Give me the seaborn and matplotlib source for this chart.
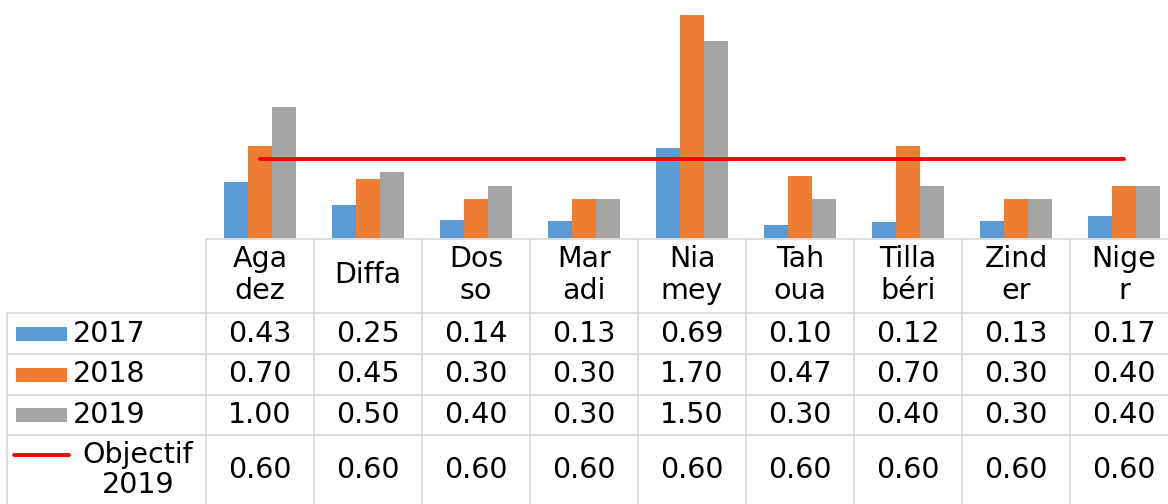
import numpy as np
import pandas as pd
import matplotlib
matplotlib.use("Agg")
import matplotlib.pyplot as plt
from matplotlib.patches import Rectangle
import seaborn as sns

# ---- data ----
regions = ["Agadez", "Diffa", "Dosso", "Maradi", "Niamey", "Tahoua", "Tillabéri", "Zinder", "Niger"]
header_labels = ["Aga\ndez", "Diffa", "Dos\nso", "Mar\nadi", "Nia\nmey", "Tah\noua", "Tilla\nbéri", "Zind\ner", "Nige\nr"]
years = ["2017", "2018", "2019"]
v2017 = [0.43, 0.25, 0.14, 0.13, 0.69, 0.10, 0.12, 0.13, 0.17]
v2018 = [0.70, 0.45, 0.30, 0.30, 1.70, 0.47, 0.70, 0.30, 0.40]
v2019 = [1.00, 0.50, 0.40, 0.30, 1.50, 0.30, 0.40, 0.30, 0.40]
objective = [0.60, 0.60, 0.60, 0.60, 0.60, 0.60, 0.60, 0.60, 0.60]
objective_label = "Objectif\n2019"

colors = ["#5B9BD5", "#ED7D31", "#A5A5A5"]
red = "#FF0000"
grid_c = "#D9D9D9"

df = pd.DataFrame({
    "region": regions * 3,
    "year": np.repeat(years, len(regions)),
    "value": v2017 + v2018 + v2019,
})

sns.set_style("white")
plt.rcParams["font.family"] = ["DejaVu Sans"]
plt.rcParams["text.color"] = "black"

W, H = 1168, 504
fig = plt.figure(figsize=(W / 100, H / 100), dpi=100)

col_w = 108.0
x0 = 206.0
base_px = 238.0


def px2x(p):
    return -0.5 + (p - x0) / col_w


xl = (px2x(0), px2x(W))

# ---- bars ----
ax = fig.add_axes([0, (H - base_px) / H, 1, (base_px - 2) / H])
sns.barplot(data=df, x="region", y="value", hue="year", palette=colors,
            width=0.667, saturation=1, ax=ax, legend=False, edgecolor="none")
sns.lineplot(x=np.arange(len(regions)), y=objective, color=red, linewidth=2.8, ax=ax)
ax.set_xlim(xl)
ax.set_ylim(0, 1.8)
ax.axis("off")

# ---- data table ----
tax = fig.add_axes([0, 0, 1, (H - base_px) / H])
tax.set_xlim(xl)
tax.set_ylim(H, base_px)
tax.axis("off")

row_lines = [313, 354, 395, 435]
xr = xl[1]
xleft = px2x(7)
lw = 1.3
tax.plot([-0.5, xr], [base_px + 0.5, base_px + 0.5], color=grid_c, lw=lw)
for y in row_lines:
    tax.plot([xleft, xr], [y, y], color=grid_c, lw=lw)
for k in range(len(regions) + 1):
    tax.plot([-0.5 + k, -0.5 + k], [base_px, H], color=grid_c, lw=lw)
tax.plot([xleft, xleft], [row_lines[0], H], color=grid_c, lw=lw)

fs = 20.5
tc = "black"
row_centers = [333.5, 374.5, 415, 470]
for i, lab in enumerate(header_labels):
    tax.text(i, 275, lab, ha="center", va="center", fontsize=fs, linespacing=1.15, color=tc)

series = [v2017, v2018, v2019, objective]
for r, vals in enumerate(series):
    for i, v in enumerate(vals):
        tax.text(i, row_centers[r], f"{v:.2f}", ha="center", va="center", fontsize=fs, color=tc)

# row labels with legend keys
for r, (yr, c) in enumerate(zip(years, colors)):
    yc = row_centers[r]
    tax.add_patch(Rectangle((px2x(16), yc - 7), px2x(67) - px2x(16), 14,
                            facecolor=c, edgecolor="none"))
    tax.text(px2x(73), yc, yr, ha="left", va="center", fontsize=fs, color=tc)

yc = row_centers[3]
tax.plot([px2x(14), px2x(69)], [455, 455], color=red, lw=2.8)
tax.text(px2x(138), yc, objective_label, ha="center", va="center", fontsize=fs,
         linespacing=1.1, color=tc)

fig.savefig("out.png", dpi=100)
